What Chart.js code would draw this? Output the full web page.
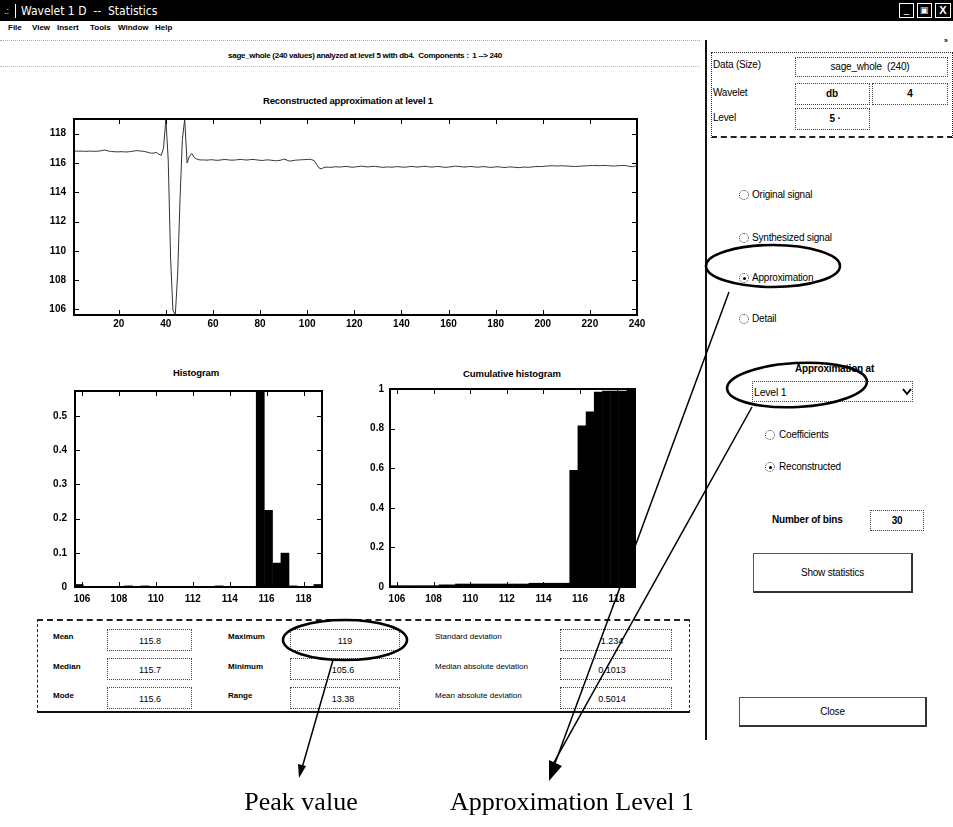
<!DOCTYPE html>
<html>
<head>
<meta charset="utf-8">
<title>Wavelet 1 D -- Statistics</title>
<script src="https://cdn.jsdelivr.net/npm/chart.js@4"></script>
<style>
body { margin: 0; background: #fff; }
#win { position: relative; width: 953px; height: 827px; overflow: hidden; background: #fff;
       font-family: Arial, "Liberation Sans", sans-serif; color: #000; }
.t { position: absolute; white-space: nowrap; line-height: 1; transform: translateY(-50%); font-size: 8px; }
.c { transform: translate(-50%, -50%); }
.b { font-weight: bold; }
.r { font-size: 10px; letter-spacing: -0.2px; }
.box { position: absolute; box-sizing: border-box; border: 1px dotted #444; }
.rb { position: absolute; width: 10px; height: 10px; box-sizing: border-box; border: 1px dotted #333; border-radius: 50%; }
.rb.on::after { content: ''; position: absolute; left: 2.5px; top: 2.5px; width: 3px; height: 3px; background: #000; border-radius: 50%; }
.btn { position: absolute; box-sizing: border-box; border: 1px solid #555; border-right: 2px solid #333; border-bottom: 2px solid #333;
       display: flex; align-items: center; justify-content: center; font-size: 10px; letter-spacing: -0.2px; }
canvas { position: absolute; }
</style>
</head>
<body>
<div id="win">
  <!-- title bar -->
  <div style="position:absolute;left:0;top:0;width:953px;height:21px;background:#000"></div>
  <div class="t" style="left:4px;top:11px;color:#fff;font-size:9px">.:</div>
  <div class="t" style="left:15px;top:11px;width:1px;height:14px;background:#fff"></div>
  <div class="t" style="left:21px;top:11px;color:#fff;font-family:'DejaVu Sans Condensed','DejaVu Sans',sans-serif;font-size:12px">Wavelet 1 D &nbsp;--&nbsp; Statistics</div>
  <div style="position:absolute;left:899px;top:3px;width:15px;height:15px;border:1px solid #fff;box-sizing:border-box;color:#fff;font-size:10px;text-align:center;line-height:12px">_</div>
  <div style="position:absolute;left:917px;top:3px;width:15px;height:15px;border:1px solid #fff;box-sizing:border-box;color:#fff;font-size:9px;text-align:center;line-height:13px">&#9635;</div>
  <div style="position:absolute;left:935px;top:3px;width:16px;height:15px;border:1px solid #fff;box-sizing:border-box;color:#fff;font-size:11px;font-weight:bold;text-align:center;line-height:13px">X</div>

  <!-- menu -->
  <div class="t b" style="left:8px;top:28px">File</div>
  <div class="t b" style="left:32px;top:28px">View</div>
  <div class="t b" style="left:57px;top:28px">Insert</div>
  <div class="t b" style="left:90px;top:28px">Tools</div>
  <div class="t b" style="left:118px;top:28px">Window</div>
  <div class="t b" style="left:155px;top:28px">Help</div>
  <div style="position:absolute;left:0;top:40px;width:700px;border-top:1px dotted #aaa"></div>

  <div class="t c b" style="left:365px;top:56px;letter-spacing:-0.3px">sage_whole (240 values) analyzed at level 5 with db4. &nbsp;Components : &nbsp;1 --&gt; 240</div>
  <div style="position:absolute;left:0;top:66px;width:700px;border-top:1px dotted #bbb"></div>

  <!-- plot titles -->
  <div class="t c b" style="left:348px;top:101px;font-size:9.5px;letter-spacing:-0.2px">Reconstructed approximation at level 1</div>
  <div class="t c b" style="left:196px;top:373px;font-size:9.5px;letter-spacing:-0.1px">Histogram</div>
  <div class="t c b" style="left:512px;top:374px;font-size:9.5px;letter-spacing:-0.1px">Cumulative histogram</div>

  <canvas id="approxChart" width="620" height="230" style="left:30px;top:105px"></canvas>
  <canvas id="histChart" width="310" height="230" style="left:25px;top:377px"></canvas>
  <canvas id="cumulChart" width="308" height="230" style="left:340px;top:377px"></canvas>

  <!-- statistics panel -->
  <div style="position:absolute;left:37px;top:619px;width:653px;height:94px;box-sizing:border-box;border:1px dashed #222;border-top:2px dashed #222;border-bottom:2px solid #111"></div>
  <div class="t b" style="left:53px;top:637px">Mean</div>
  <div class="t b" style="left:53px;top:667px">Median</div>
  <div class="t b" style="left:53px;top:696px">Mode</div>
  <div class="box" style="left:107px;top:629px;width:85px;height:22px"></div>
  <div class="box" style="left:107px;top:658px;width:85px;height:22px"></div>
  <div class="box" style="left:107px;top:687px;width:85px;height:22px"></div>
  <div class="t c" style="left:150px;top:641px;font-size:9px">115.8</div>
  <div class="t c" style="left:150px;top:670px;font-size:9px">115.7</div>
  <div class="t c" style="left:150px;top:699px;font-size:9px">115.6</div>

  <div class="t b" style="left:228px;top:637px">Maximum</div>
  <div class="t b" style="left:228px;top:667px">Minimum</div>
  <div class="t b" style="left:228px;top:696px">Range</div>
  <div class="box" style="left:290px;top:629px;width:110px;height:22px"></div>
  <div class="box" style="left:290px;top:658px;width:110px;height:22px"></div>
  <div class="box" style="left:290px;top:687px;width:110px;height:22px"></div>
  <div class="t c" style="left:345px;top:641px;font-size:9px">119</div>
  <div class="t c" style="left:343px;top:670px;font-size:9px">105.6</div>
  <div class="t c" style="left:343px;top:699px;font-size:9px">13.38</div>

  <div class="t" style="left:435px;top:637px">Standard deviation</div>
  <div class="t" style="left:435px;top:667px">Median absolute deviation</div>
  <div class="t" style="left:435px;top:696px">Mean absolute deviation</div>
  <div class="box" style="left:560px;top:629px;width:112px;height:22px"></div>
  <div class="box" style="left:560px;top:658px;width:112px;height:22px"></div>
  <div class="box" style="left:560px;top:687px;width:112px;height:22px"></div>
  <div class="t c" style="left:612px;top:641px;font-size:9px">1.234</div>
  <div class="t c" style="left:612px;top:670px;font-size:9px">0.1013</div>
  <div class="t c" style="left:612px;top:699px;font-size:9px">0.5014</div>

  <!-- right panel -->
  <div style="position:absolute;left:705px;top:40px;width:2px;height:700px;background:#111"></div>
  <div class="t b" style="left:944px;top:40px;font-size:7px">&#187;</div>
  <div style="position:absolute;left:711px;top:52px;width:242px;height:86px;box-sizing:border-box;border:1px dotted #222;border-bottom:2px dashed #222"></div>
  <div class="t r" style="left:713px;top:65px">Data (Size)</div>
  <div class="t r" style="left:713px;top:93px">Wavelet</div>
  <div class="t r" style="left:713px;top:118px">Level</div>
  <div class="box" style="left:795px;top:57px;width:153px;height:20px"></div>
  <div class="box" style="left:795px;top:83px;width:75px;height:22px"></div>
  <div class="box" style="left:872px;top:83px;width:76px;height:22px"></div>
  <div class="box" style="left:795px;top:108px;width:75px;height:22px"></div>
  <div class="t c r" style="left:870px;top:67px">sage_whole &nbsp;(240)</div>
  <div class="t c b r" style="left:832px;top:94px">db</div>
  <div class="t c b r" style="left:910px;top:94px">4</div>
  <div class="t c b r" style="left:835px;top:119px">5 &middot;</div>

  <div class="rb" style="left:739px;top:190px"></div>
  <div class="t r" style="left:752px;top:195px">Original signal</div>
  <div class="rb" style="left:739px;top:233px"></div>
  <div class="t r" style="left:752px;top:238px">Synthesized signal</div>
  <div class="rb on" style="left:739px;top:273px"></div>
  <div class="t r" style="left:752px;top:278px">Approximation</div>
  <div class="rb" style="left:739px;top:314px"></div>
  <div class="t r" style="left:752px;top:319px">Detail</div>

  <div class="t b r" style="left:795px;top:369px">Approximation at</div>
  <div class="box" style="left:752px;top:381px;width:161px;height:21px"></div>
  <div class="t r" style="left:754px;top:392px;font-size:10.5px">Level 1</div>
  <svg style="position:absolute;left:902px;top:388px" width="10" height="8"><polyline points="1,1 5,6 9,1" fill="none" stroke="#000" stroke-width="2"/></svg>

  <div class="rb" style="left:765px;top:430px"></div>
  <div class="t r" style="left:779px;top:435px">Coefficients</div>
  <div class="rb on" style="left:765px;top:462px"></div>
  <div class="t r" style="left:779px;top:467px">Reconstructed</div>

  <div class="t b r" style="left:772px;top:520px">Number of bins</div>
  <div class="box" style="left:870px;top:510px;width:54px;height:21px"></div>
  <div class="t c b r" style="left:897px;top:521px">30</div>

  <div class="btn" style="left:753px;top:553px;width:160px;height:40px">Show statistics</div>
  <div class="btn" style="left:739px;top:697px;width:188px;height:30px">Close</div>

  <!-- annotations -->
  <svg width="953" height="827" style="position:absolute;left:0;top:0;pointer-events:none">
    <g fill="none" stroke="#000" stroke-width="2.6">
      <ellipse cx="345" cy="640" rx="62" ry="20"/>
      <ellipse cx="773" cy="266" rx="67" ry="21"/>
      <ellipse cx="797" cy="385" rx="70" ry="22" transform="rotate(-3 797 385)"/>
    </g>
    <g stroke="#000" stroke-width="1.5">
      <line x1="333" y1="660" x2="302" y2="768"/>
      <line x1="729" y1="292" x2="554" y2="766"/>
      <line x1="752" y1="407" x2="552" y2="766"/>
    </g>
    <polygon points="299,778 306,766 298,764" fill="#000"/>
    <polygon points="549,781 562,766 549,760" fill="#000"/>
  </svg>
  <div class="t c" style="left:301px;top:802px;font-family:'Liberation Serif','Times New Roman',serif;font-size:26px">Peak value</div>
  <div class="t c" style="left:572px;top:802px;font-family:'Liberation Serif','Times New Roman',serif;font-size:26px">Approximation Level 1</div>
</div>

<script>
// reconstructed approximation at level 1, samples 1..240
var approxL1 = [
  116.80, 116.81, 116.80, 116.81, 116.80, 116.79, 116.80, 116.81, 116.80, 116.79, 116.80, 116.82, 116.85, 116.88, 116.84, 116.80, 116.78, 116.77, 116.76, 116.76,
  116.77, 116.76, 116.75, 116.76, 116.78, 116.80, 116.83, 116.84, 116.82, 116.80, 116.78, 116.74, 116.70, 116.66, 116.68, 116.72, 116.60, 116.52, 117.00, 119.00,
  116.20, 109.50, 105.95, 105.62, 108.40, 113.50, 117.60, 119.00, 116.00, 116.45, 116.65, 116.38, 116.27, 116.22, 116.20, 116.21, 116.19, 116.20, 116.22, 116.21,
  116.19, 116.18, 116.20, 116.22, 116.24, 116.22, 116.20, 116.19, 116.20, 116.21, 116.23, 116.24, 116.22, 116.20, 116.21, 116.23, 116.24, 116.22, 116.20, 116.18,
  116.17, 116.19, 116.21, 116.20, 116.18, 116.16, 116.15, 116.17, 116.20, 116.26, 116.22, 116.15, 116.13, 116.16, 116.19, 116.20, 116.21, 116.22, 116.23, 116.24,
  116.25, 116.22, 116.15, 115.90, 115.66, 115.60, 115.68, 115.72, 115.71, 115.70, 115.72, 115.74, 115.73, 115.72, 115.74, 115.76, 115.75, 115.73, 115.71, 115.72,
  115.74, 115.76, 115.78, 115.76, 115.74, 115.73, 115.75, 115.77, 115.76, 115.74, 115.72, 115.70, 115.71, 115.73, 115.72, 115.71, 115.73, 115.75, 115.74, 115.72,
  115.71, 115.72, 115.74, 115.76, 115.75, 115.73, 115.72, 115.74, 115.76, 115.77, 115.75, 115.73, 115.72, 115.74, 115.76, 115.75, 115.73, 115.71, 115.70, 115.72,
  115.74, 115.76, 115.78, 115.77, 115.75, 115.73, 115.72, 115.74, 115.76, 115.75, 115.73, 115.71, 115.72, 115.74, 115.75, 115.73, 115.71, 115.70, 115.71, 115.73,
  115.74, 115.72, 115.70, 115.69, 115.71, 115.73, 115.72, 115.70, 115.69, 115.68, 115.70, 115.72, 115.71, 115.70, 115.72, 115.74, 115.75, 115.76, 115.75, 115.76,
  115.78, 115.79, 115.80, 115.81, 115.80, 115.79, 115.80, 115.81, 115.80, 115.79, 115.78, 115.77, 115.76, 115.76, 115.77, 115.78, 115.79, 115.80, 115.81, 115.82,
  115.82, 115.83, 115.82, 115.81, 115.82, 115.83, 115.82, 115.81, 115.80, 115.79, 115.80, 115.81, 115.82, 115.83, 115.82, 115.80, 115.76, 115.74, 115.78, 115.80
];

// 30 bins between min 105.62 and max 119
var binCenters = [
  105.843, 106.289, 106.735, 107.181, 107.627, 108.073, 108.519, 108.965, 109.411, 109.857,
  110.303, 110.749, 111.195, 111.641, 112.087, 112.533, 112.979, 113.425, 113.871, 114.317,
  114.763, 115.209, 115.655, 116.101, 116.547, 116.993, 117.439, 117.885, 118.331, 118.777
];
var histFreq = [
  0.0083, 0, 0, 0, 0, 0, 0.0042, 0, 0.0042, 0,
  0, 0, 0, 0, 0, 0, 0, 0.0042, 0, 0,
  0, 0, 0.57, 0.225, 0.0708, 0.1, 0.0042, 0, 0, 0.0083
];
var cumulFreq = [
  0.0083, 0.0083, 0.0083, 0.0083, 0.0083, 0.0083, 0.0125, 0.0125, 0.0167, 0.0167,
  0.0167, 0.0167, 0.0167, 0.0167, 0.0167, 0.0167, 0.0167, 0.0208, 0.0208, 0.0208,
  0.0208, 0.0208, 0.5908, 0.8158, 0.8867, 0.9867, 0.9908, 0.9908, 0.9908, 1.0
];

var approxXTicks = [20, 40, 60, 80, 100, 120, 140, 160, 180, 200, 220, 240];
var approxYTicks = [106, 108, 110, 112, 114, 116, 118];
var histXTicks = [106, 108, 110, 112, 114, 116, 118];
var histYTicks = [0, 0.1, 0.2, 0.3, 0.4, 0.5];
var cumulYTicks = [0, 0.2, 0.4, 0.6, 0.8, 1];

Chart.defaults.font.family = 'Arial, "Liberation Sans", sans-serif';
Chart.defaults.font.size = 10;
Chart.defaults.font.weight = 'bold';
Chart.defaults.color = '#000';

// matlab style axes: full box, ticks pointing inwards on all four sides
var axesBox = {
    id: 'axesBox',
    afterDraw: function(chart) {
        var ctx = chart.ctx, a = chart.chartArea;
        var x = chart.scales.x, y = chart.scales.y;
        ctx.save();
        ctx.strokeStyle = '#000';
        ctx.lineWidth = 1;
        ctx.beginPath();
        x.ticks.forEach(function(t) {
            var px = Math.round(x.getPixelForValue(t.value)) + 0.5;
            ctx.moveTo(px, a.bottom); ctx.lineTo(px, a.bottom - 5);
            ctx.moveTo(px, a.top); ctx.lineTo(px, a.top + 5);
        });
        y.ticks.forEach(function(t) {
            var py = Math.round(y.getPixelForValue(t.value)) + 0.5;
            ctx.moveTo(a.left, py); ctx.lineTo(a.left + 5, py);
            ctx.moveTo(a.right, py); ctx.lineTo(a.right - 5, py);
        });
        ctx.stroke();
        ctx.lineWidth = 2;
        ctx.strokeRect(a.left, a.top, a.right - a.left, a.bottom - a.top);
        ctx.restore();
    }
};

function fixedTicks(list) {
    return function(scale) {
        scale.ticks = list.map(function(v) { return {value: v}; });
    };
}

function axis(min, max, list, extra) {
    var o = {
        type: 'linear',
        min: min,
        max: max,
        offset: false,
        afterBuildTicks: fixedTicks(list),
        grid: {display: false, drawTicks: false},
        border: {display: false},
        ticks: {autoSkip: false, maxRotation: 0, color: '#000', callback: function(v) { return String(v); }}
    };
    for (var k in extra) {
        if (k === 'ticks') { for (var j in extra.ticks) o.ticks[j] = extra.ticks[j]; }
        else o[k] = extra[k];
    }
    return o;
}

var common = {
    responsive: false,
    animation: false,
    devicePixelRatio: 1,
    plugins: {legend: {display: false}, tooltip: {enabled: false}}
};

function opts(xAxis, yAxis) {
    var o = JSON.parse(JSON.stringify(common));
    o.layout = {padding: {top: 8, right: 13, left: 0, bottom: 0}};
    o.scales = {x: xAxis, y: yAxis};
    return o;
}

// Reconstructed approximation at level 1
new Chart(document.getElementById('approxChart'), {
    type: 'line',
    data: {
        datasets: [{
            data: approxL1.map(function(v, i) { return {x: i + 1, y: v}; }),
            borderColor: '#333',
            borderWidth: 1,
            pointRadius: 0,
            tension: 0
        }]
    },
    options: opts(
        axis(1, 240, approxXTicks, {afterFit: function(s) { s.height = 20; }, ticks: {padding: 3}}),
        axis(105.62, 119, approxYTicks, {afterFit: function(s) { s.width = 44; }, ticks: {padding: 8}})
    ),
    plugins: [axesBox]
});

// Histogram
new Chart(document.getElementById('histChart'), {
    type: 'bar',
    data: {
        datasets: [{
            data: binCenters.map(function(c, i) { return {x: c, y: histFreq[i]}; }),
            backgroundColor: '#000',
            borderWidth: 0,
            barPercentage: 1.06,
            categoryPercentage: 1
        }]
    },
    options: opts(
        axis(105.62, 119, histXTicks, {afterFit: function(s) { s.height = 20; }, ticks: {padding: 6}}),
        axis(0, 0.573, histYTicks, {afterFit: function(s) { s.width = 50; }, ticks: {padding: 8}})
    ),
    plugins: [axesBox]
});

// Cumulative histogram
new Chart(document.getElementById('cumulChart'), {
    type: 'bar',
    data: {
        datasets: [{
            data: binCenters.map(function(c, i) { return {x: c, y: cumulFreq[i]}; }),
            backgroundColor: '#000',
            borderWidth: 0,
            barPercentage: 1.06,
            categoryPercentage: 1
        }]
    },
    options: opts(
        axis(105.62, 119, histXTicks, {afterFit: function(s) { s.height = 20; }, ticks: {padding: 6}}),
        axis(0, 1, cumulYTicks, {afterFit: function(s) { s.width = 50; }, ticks: {padding: 6}})
    ),
    plugins: [axesBox]
});
</script>
</body>
</html>
